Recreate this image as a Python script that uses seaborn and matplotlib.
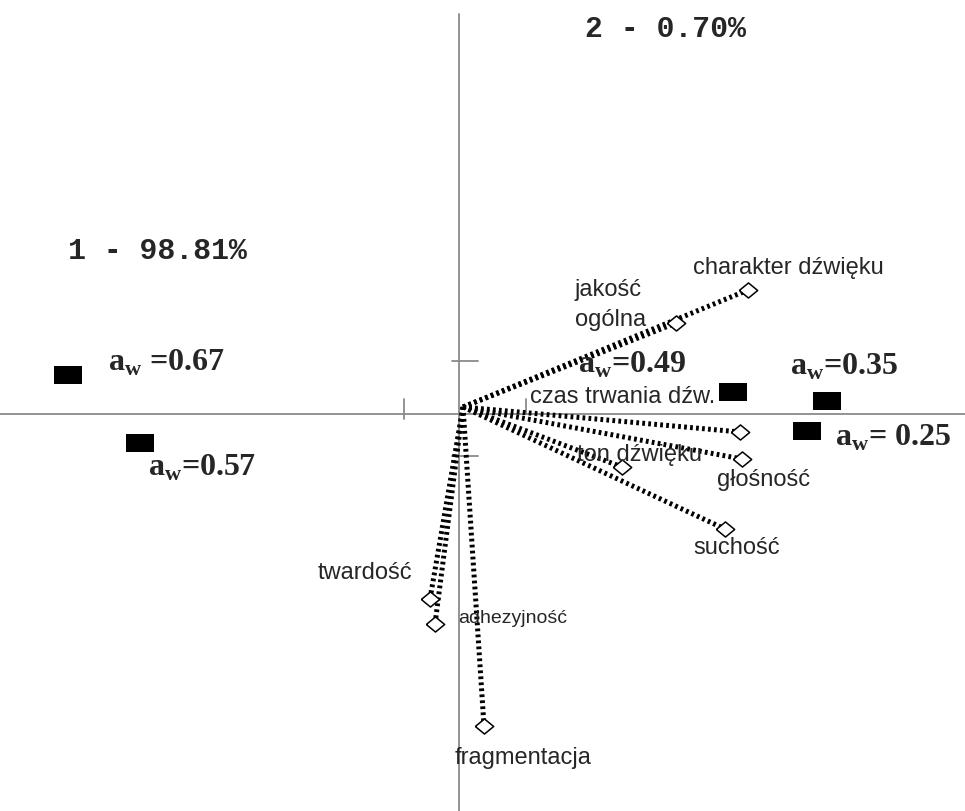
import numpy as np
import pandas as pd
import matplotlib
matplotlib.use('Agg')
import matplotlib.pyplot as plt
import seaborn as sns

######################################################
# Loadings of the sensory attributes (factor 1, factor 2), chart units
var_names = ['charakter dźwięku', 'jakość\nogólna', 'czas trwania dźw.', 'głośność',
             'ton dźwięku', 'suchość', 'twardość', 'adhezyjność', 'fragmentacja']
var_x = [289, 217, 281, 283, 163, 266, -29, -24, 25]
var_y = [124, 91, -18, -45, -53, -115, -185, -210, -312]

# Scores of the samples (water activity)
aw_values = ['0.67', '0.57', '0.49', '0.35', '0.25']
aw_x = [-391, -319, 274, 368, 348]
aw_y = [39, -29, 22, 13, -17]

axis_titles = ['1 - 98.81%', '2 - 0.70%']

# label placement
var_label_pos = [(234, 147), (116, 110), (71, 18), (258, -65), (118, -40),
                 (234, -133), (-141, -158), (-1, -204), (-4, -343)]
aw_label_text = ['a$_\\mathbf{w}$ =0.67', 'a$_\\mathbf{w}$=0.57', 'a$_\\mathbf{w}$=0.49',
                 'a$_\\mathbf{w}$=0.35', 'a$_\\mathbf{w}$= 0.25']
aw_label_pos = [(-351, 52), (-311, -53), (119, 50), (331, 48), (376, -23)]
origin = (4, 7)

sns.set_style('white')
plt.rcParams['mathtext.fontset'] = 'custom'
plt.rcParams['mathtext.bf'] = 'Liberation Serif:bold'
plt.rcParams['mathtext.rm'] = 'Liberation Serif:bold'

fig = plt.figure(figsize=(9.65, 8.12), dpi=100)
ax = fig.add_axes([0, 0, 1, 1])
ax.set_xlim(-459, 506)
ax.set_ylim(-397, 415)
ax.axis('off')

# axes of the factor plane
grey = '#8a8a8a'
ax.plot([-459, 506], [0, 0], color=grey, lw=1.3, zorder=1)
ax.plot([0, 0], [-397, 400], color=grey, lw=1.3, zorder=1)
ax.plot([-55, -55], [-5, 15], color=grey, lw=1.3)
ax.plot([67, 67], [0, 15], color=grey, lw=1.3)
ax.plot([-7, 19], [53, 53], color=grey, lw=1.3)
ax.plot([-7, 19], [-42, -42], color=grey, lw=1.3)

# vectors
for x, y in zip(var_x, var_y):
    ax.plot([origin[0], x], [origin[1], y], color='black', lw=3.6,
            linestyle=(0, (0.55, 0.65)), zorder=2)

loadings = pd.DataFrame({'name': var_names, 'x': var_x, 'y': var_y})
diamond = [(-1, 0), (0, 0.82), (1, 0), (0, -0.82), (-1, 0)]
sns.scatterplot(data=loadings, x='x', y='y', marker=diamond, s=175,
                facecolor='white', edgecolor='black', linewidth=1.1, ax=ax, zorder=3)

for name, (lx, ly) in zip(var_names, var_label_pos):
    size = 14 if name == 'adhezyjność' else 17
    ax.text(lx, ly, name, fontsize=size, family='Liberation Sans', ha='left', va='center',
            linespacing=1.45)

scores = pd.DataFrame({'aw': aw_values, 'x': aw_x, 'y': aw_y})
rect = [(-1, -0.62), (1, -0.62), (1, 0.62), (-1, 0.62), (-1, -0.62)]
sns.scatterplot(data=scores, x='x', y='y', marker=rect, s=420,
                color='black', linewidth=0, ax=ax, zorder=3)

for txt, (lx, ly) in zip(aw_label_text, aw_label_pos):
    ax.text(lx, ly, txt, fontsize=23, family='Liberation Serif', weight='bold',
            ha='left', va='center')

ax.text(-391, 164, axis_titles[0], fontsize=21.5, family='Liberation Mono', weight='bold',
        ha='left', va='center')
ax.text(126, 386, axis_titles[1], fontsize=21.5, family='Liberation Mono', weight='bold',
        ha='left', va='center')

fig.savefig('out.png', dpi=100)
